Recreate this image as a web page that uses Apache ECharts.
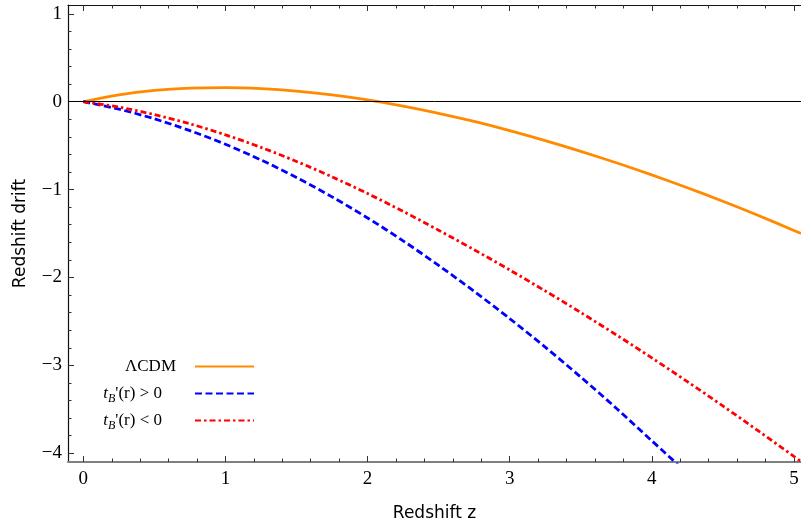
<!DOCTYPE html>
<html>
<head>
<meta charset="utf-8">
<script src="https://cdn.jsdelivr.net/npm/echarts@6/dist/echarts.min.js"></script>
<style>
html,body{margin:0;padding:0;background:#fff;}
#chart{width:801px;height:529px;}
</style>
</head>
<body>
<div id="chart"></div>
<script>
// ---- data ----
const zGrid = [0, 0.25, 0.5, 0.75, 1, 1.25, 1.5, 1.75, 2, 2.25, 2.5, 2.75, 3, 3.25, 3.5, 3.75, 4, 4.25, 4.5, 4.75, 5, 5.05];
const lcdm  = [0, 0.078, 0.128, 0.154, 0.160, 0.148, 0.120, 0.077, 0.020, -0.050, -0.132, -0.225, -0.329, -0.443, -0.565, -0.695, -0.833, -0.979, -1.133, -1.295, -1.465, -1.50];
const tbNeg = [0, -0.062, -0.147, -0.252, -0.377, -0.52, -0.68, -0.855, -1.045, -1.248, -1.463, -1.685, -1.915, -2.153, -2.399, -2.653, -2.915, -3.185, -3.462, -3.746, -4.036, -4.094];
const zBlue = [0, 0.25, 0.5, 0.75, 1, 1.25, 1.5, 1.75, 2, 2.25, 2.5, 2.75, 3, 3.25, 3.5, 3.75, 4, 4.25];
const tbPos = [0, -0.085, -0.195, -0.33, -0.485, -0.663, -0.863, -1.083, -1.323, -1.583, -1.863, -2.158, -2.468, -2.793, -3.133, -3.488, -3.858, -4.228];

const xMajor = [0, 1, 2, 3, 4, 5];
const xMinor = [0.2, 0.4, 0.6, 0.8, 1.2, 1.4, 1.6, 1.8, 2.2, 2.4, 2.6, 2.8, 3.2, 3.4, 3.6, 3.8, 4.2, 4.4, 4.6, 4.8];
const yMajor = [-4, -3, -2, -1, 0, 1];
const yMinor = [-3.8, -3.6, -3.4, -3.2, -2.8, -2.6, -2.4, -2.2, -1.8, -1.6, -1.4, -1.2, -0.8, -0.6, -0.4, -0.2, 0.2, 0.4, 0.6, 0.8];

const names = ['ΛCDM', "tB'(r) > 0", "tB'(r) < 0"];

function pairs(xs, ys) { return xs.map((x, i) => [x, ys[i]]); }

const X_MIN = -0.108, X_MAX = 5.05, Y_MIN = -4.1, Y_MAX = 1.1;
const serif = 'Liberation Serif';

function xAx(pos, ticks, len, labels, line) {
  return {
    type: 'value', position: pos, min: X_MIN, max: X_MAX,
    axisLine: line ? { show: true, onZero: false, lineStyle: line } : { show: false, onZero: false },
    axisTick: { show: true, inside: true, length: len, customValues: ticks, lineStyle: { color: '#333', width: 1 } },
    axisLabel: labels ? { show: true, customValues: ticks, fontFamily: serif, fontSize: 19, color: '#000', margin: 8 } : { show: false },
    splitLine: { show: false }
  };
}
function yAx(pos, ticks, len, labels, line) {
  return {
    type: 'value', position: pos, min: Y_MIN, max: Y_MAX,
    axisLine: line ? { show: true, onZero: false, lineStyle: line } : { show: false, onZero: false },
    axisTick: { show: true, inside: true, length: len, customValues: ticks, lineStyle: { color: '#333', width: 1 } },
    axisLabel: labels ? { show: true, customValues: ticks, fontFamily: serif, fontSize: 19, color: '#000', margin: 6,
      formatter: v => (v < 0 ? '\u2212' + Math.abs(v) : String(v)) } : { show: false },
    splitLine: { show: false }
  };
}

const xAxes = [
  xAx('bottom', xMajor, 6, true, { color: '#808080', width: 2 }),
  xAx('bottom', xMinor, 3.5, false, null),
  xAx('top', xMajor, 6, false, { color: '#111', width: 1 }),
  xAx('top', xMinor, 3.5, false, null)
];
Object.assign(xAxes[0], { name: 'Redshift z', nameLocation: 'middle', nameGap: 43,
  nameTextStyle: { fontFamily: 'DejaVu Sans', fontSize: 17, color: '#000' } });

const yAxes = [
  yAx('left', yMajor, 6, true, { color: '#111', width: 1.2 }),
  yAx('left', yMinor, 3.5, false, null)
];
Object.assign(yAxes[0], { name: 'Redshift drift', nameLocation: 'middle', nameGap: 39,
  nameTextStyle: { fontFamily: 'DejaVu Sans', fontSize: 17, color: '#000' } });

const rich = {
  n: { fontFamily: serif, fontSize: 17, color: '#000', lineHeight: 22 },
  t: { fontFamily: serif, fontSize: 17, fontStyle: 'italic', color: '#000', lineHeight: 22 },
  b: { fontFamily: serif, fontSize: 12, fontStyle: 'italic', color: '#000', lineHeight: 14, verticalAlign: 'bottom' }
};
function fmt(name) {
  if (name === names[0]) return '{n|ΛCDM}';
  return '{t|t}{b|B}{n|' + name.slice(2) + '}';
}
function legendFor(i, top, padRight) {
  return {
    data: [names[i]], orient: 'vertical', align: 'right', right: 546, top: top, padding: 0,
    itemWidth: 59, itemHeight: 14, selectedMode: false,
    itemStyle: { color: 'rgba(0,0,0,0)', borderWidth: 0, opacity: 0 },
    formatter: fmt,
    textStyle: { rich: rich, padding: [0, padRight, 0, 0] }
  };
}

const option = {
  animation: false,
  backgroundColor: '#fff',
  grid: { left: 68, right: 0, top: 5, bottom: 67, containLabel: false, outerBoundsMode: 'none' },
  xAxis: xAxes,
  yAxis: yAxes,
  legend: [legendFor(0, 358, 14), legendFor(1, 385, 28), legendFor(2, 412, 28)],
  series: [
    { name: names[0], type: 'line', xAxisIndex: 0, yAxisIndex: 0, data: pairs(zGrid, lcdm), symbol: 'none', smooth: 0.3,
      lineStyle: { color: '#ff8a00', width: 2.8 }, itemStyle: { color: '#ff8a00' }, z: 3,
      markLine: { silent: true, symbol: ['none', 'none'], label: { show: false }, animation: false,
        lineStyle: { color: '#000', width: 1, type: 'solid' }, data: [{ yAxis: 0 }] } },
    { name: names[1], type: 'line', xAxisIndex: 0, yAxisIndex: 0, data: pairs(zBlue, tbPos), symbol: 'none', smooth: 0.3,
      lineStyle: { color: '#0000ff', width: 2.8, type: [7, 3.5] }, itemStyle: { color: '#0000ff' }, z: 3 },
    { name: names[2], type: 'line', xAxisIndex: 0, yAxisIndex: 0, data: pairs(zGrid, tbNeg), symbol: 'none', smooth: 0.3,
      lineStyle: { color: '#ff0000', width: 2.8, type: [6, 3, 2.5, 3] }, itemStyle: { color: '#ff0000' }, z: 3 }
  ]
};

const chart = echarts.init(document.getElementById('chart'), null, { renderer: 'canvas' });
chart.setOption(option);
</script>
</body>
</html>
